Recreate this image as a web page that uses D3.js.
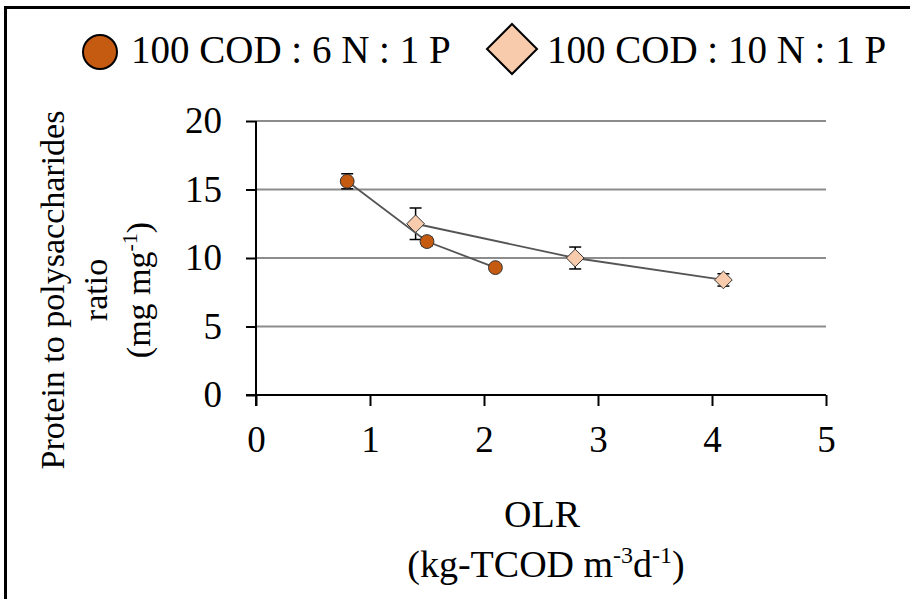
<!DOCTYPE html>
<html>
<head>
<meta charset="utf-8">
<script src="https://cdn.jsdelivr.net/npm/d3@7"></script>
<style>
  body { margin: 0; background: #fff; }
  svg text { font-family: "Liberation Serif", "Times New Roman", serif; fill: #000; }
</style>
</head>
<body>
<div id="chart"></div>
<script>
// Chart values
var seriesNames = ["100 COD : 6 N : 1 P", "100 COD : 10 N : 1 P"];
var olr6 = [0.8, 1.5, 2.1];
var ratio6 = [15.6, 11.2, 9.3];
var err6 = [0.55, 0.3, 0.2];
var olr10 = [1.4, 2.8, 4.1];
var ratio10 = [12.5, 10.0, 8.4];
var err10 = [1.15, 0.8, 0.45];
var xTicks = [0, 1, 2, 3, 4, 5];
var yTicks = [0, 5, 10, 15, 20];

var chart = {};
chart.width = 910;
chart.height = 599;

var svg = d3.select("#chart").append("svg")
    .attr("width", chart.width)
    .attr("height", chart.height);

// Frame round the chart (top and left visible)
svg.append("path")
    .attr("d", "M5.5,600 L5.5,7.5 L912,7.5")
    .attr("fill", "none")
    .attr("stroke", "#000")
    .attr("stroke-width", 3);

// Scales
chart.x = d3.scaleLinear().domain([0, 5]).range([256, 826]);
chart.y = d3.scaleLinear().domain([0, 20]).range([395, 121]);

// Gridlines
svg.append("g").selectAll("line")
    .data(yTicks.filter(function(d) { return d > 0; }))
    .enter().append("line")
    .attr("x1", chart.x(0))
    .attr("x2", chart.x(5))
    .attr("y1", function(d) { return chart.y(d); })
    .attr("y2", function(d) { return chart.y(d); })
    .attr("stroke", "#8c8c8c")
    .attr("stroke-width", 2);

// Axes
var yAxis = d3.axisLeft(chart.y).tickValues(yTicks).tickSize(10).tickPadding(24);
var yAxisG = svg.append("g")
    .attr("transform", "translate(" + chart.x(0) + ",0)")
    .call(yAxis);

var xAxis = d3.axisBottom(chart.x).tickValues(xTicks).tickFormat(d3.format("d"))
    .tickSize(11).tickPadding(20);
var xAxisG = svg.append("g")
    .attr("transform", "translate(0," + chart.y(0) + ")")
    .call(xAxis);

[yAxisG, xAxisG].forEach(function(g) {
    g.attr("font-family", null).attr("font-size", null);
    g.select(".domain").attr("stroke", "#000").attr("stroke-width", 2);
    g.selectAll(".tick line").attr("stroke", "#000").attr("stroke-width", 2);
    g.selectAll(".tick text").style("font-size", "37px").attr("fill", "#000");
});
// extend y axis slightly below the x axis, like the reference
yAxisG.select(".domain").attr("d", "M0," + chart.y(20) + "V" + (chart.y(0) + 11));
xAxisG.select(".domain").attr("d", "M" + (chart.x(0) - 10) + ",0H" + chart.x(5));

// Axis titles
svg.append("text")
    .attr("x", 542).attr("y", 527)
    .attr("text-anchor", "middle")
    .style("font-size", "38px")
    .text("OLR");
var xUnit = svg.append("text")
    .attr("x", 546).attr("y", 577)
    .attr("text-anchor", "middle")
    .style("font-size", "38px");
xUnit.append("tspan").text("(kg-TCOD m");
xUnit.append("tspan").attr("dy", -14).style("font-size", "24px").text("-3");
xUnit.append("tspan").attr("dy", 14).text("d");
xUnit.append("tspan").attr("dy", -14).style("font-size", "24px").text("-1");
xUnit.append("tspan").attr("dy", 14).text(")");

var yTitleG = svg.append("g")
    .attr("transform", "translate(0,290) rotate(-90)");
yTitleG.append("text").attr("x", 0).attr("y", 64)
    .attr("text-anchor", "middle").style("font-size", "34px")
    .text("Protein to polysaccharides");
yTitleG.append("text").attr("x", 0).attr("y", 107)
    .attr("text-anchor", "middle").style("font-size", "34px")
    .text("ratio");
var yUnit = yTitleG.append("text").attr("x", 0).attr("y", 150)
    .attr("text-anchor", "middle").style("font-size", "34px");
yUnit.append("tspan").text("(mg mg");
yUnit.append("tspan").attr("dy", -13).style("font-size", "22px").text("-1");
yUnit.append("tspan").attr("dy", 13).text(")");

// Series
var data6 = olr6.map(function(d, i) { return {x: d, y: ratio6[i], e: err6[i]}; });
var data10 = olr10.map(function(d, i) { return {x: d, y: ratio10[i], e: err10[i]}; });

var line = d3.line()
    .x(function(d) { return chart.x(d.x); })
    .y(function(d) { return chart.y(d.y); });

function drawSeries(data, symbolType, size, fill) {
    var g = svg.append("g");
    g.append("path")
        .datum(data)
        .attr("d", line)
        .attr("fill", "none")
        .attr("stroke", "#555")
        .attr("stroke-width", 1.8);

    // error bars
    var eb = g.selectAll(".err").data(data).enter().append("g").attr("class", "err");
    eb.append("line")
        .attr("x1", function(d) { return chart.x(d.x); })
        .attr("x2", function(d) { return chart.x(d.x); })
        .attr("y1", function(d) { return chart.y(d.y + d.e); })
        .attr("y2", function(d) { return chart.y(d.y - d.e); });
    eb.append("line")
        .attr("x1", function(d) { return chart.x(d.x) - 6; })
        .attr("x2", function(d) { return chart.x(d.x) + 6; })
        .attr("y1", function(d) { return chart.y(d.y + d.e); })
        .attr("y2", function(d) { return chart.y(d.y + d.e); });
    eb.append("line")
        .attr("x1", function(d) { return chart.x(d.x) - 6; })
        .attr("x2", function(d) { return chart.x(d.x) + 6; })
        .attr("y1", function(d) { return chart.y(d.y - d.e); })
        .attr("y2", function(d) { return chart.y(d.y - d.e); });
    eb.selectAll("line").attr("stroke", "#000").attr("stroke-width", 1.5);

    g.selectAll(".pt").data(data).enter().append("path")
        .attr("class", "pt")
        .attr("transform", function(d) { return "translate(" + chart.x(d.x) + "," + chart.y(d.y) + ")"; })
        .attr("d", d3.symbol().type(symbolType).size(size))
        .attr("fill", fill)
        .attr("stroke", "#333")
        .attr("stroke-width", 1);
}

drawSeries(data10, d3.symbolDiamond2, 200, "#F8CBAD");
drawSeries(data6, d3.symbolCircle, 150, "#C55A11");

// Legend
var legend = svg.append("g");
legend.append("circle")
    .attr("cx", 100).attr("cy", 52).attr("r", 17)
    .attr("fill", "#C55A11").attr("stroke", "#000").attr("stroke-width", 2);
legend.append("text")
    .attr("x", 131).attr("y", 63)
    .style("font-size", "39px")
    .text(seriesNames[0]);
legend.append("path")
    .attr("d", "M512,24 L537,49 L512,74 L487,49 Z")
    .attr("fill", "#F8CBAD").attr("stroke", "#000").attr("stroke-width", 2);
legend.append("text")
    .attr("x", 547).attr("y", 63)
    .style("font-size", "39px")
    .text(seriesNames[1]);
</script>
</body>
</html>
